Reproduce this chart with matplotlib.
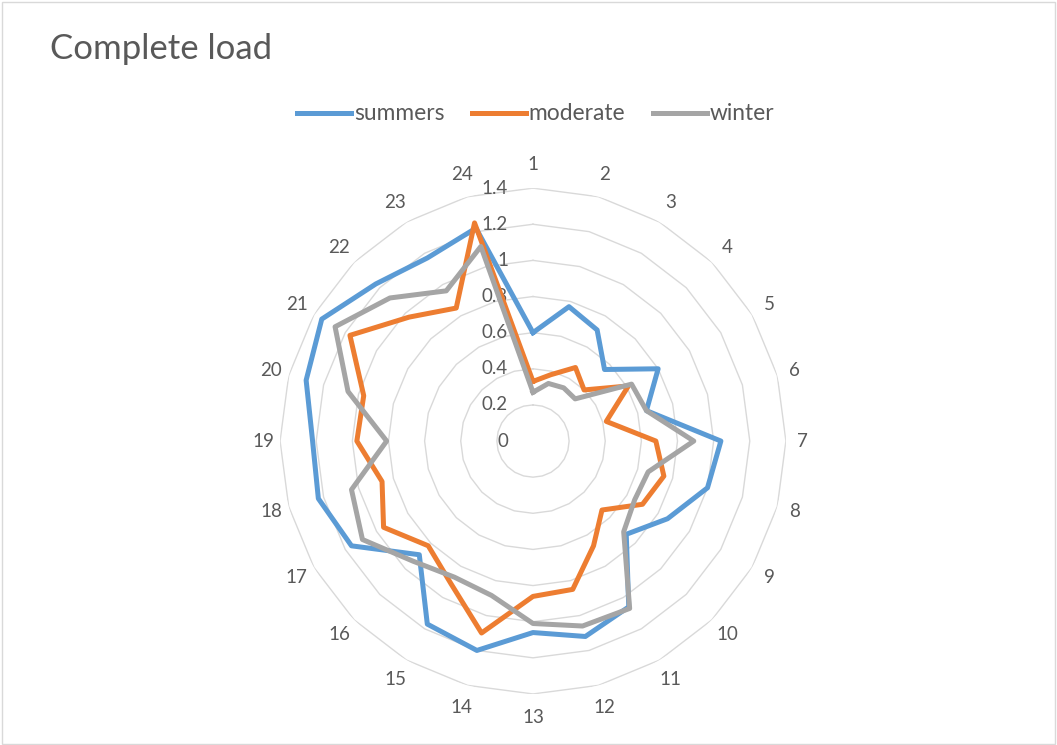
import numpy as np
import matplotlib
matplotlib.use("Agg")
import matplotlib.pyplot as plt
from matplotlib.patches import Rectangle

plt.rcParams['font.family'] = ['Lato', 'DejaVu Sans']

# ore del giorno e carichi per stagione
categorie = [str(h) for h in range(1, 25)]
summers = [0.60, 0.77, 0.71, 0.56, 0.80, 0.65, 1.04, 1.00, 0.86, 0.73, 1.06, 1.12,
           1.06, 1.20, 1.17, 0.89, 1.16, 1.23, 1.22, 1.30, 1.35, 1.23, 1.17, 1.22]
moderate = [0.33, 0.38, 0.47, 0.40, 0.61, 0.42, 0.68, 0.75, 0.70, 0.54, 0.67, 0.85,
            0.86, 1.10, 0.91, 0.82, 0.955, 0.865, 0.975, 0.97, 1.17, 0.97, 0.85, 1.25]
winter = [0.27, 0.33, 0.34, 0.33, 0.63, 0.65, 0.89, 0.66, 0.65, 0.71, 1.07, 1.06,
          1.01, 0.885, 0.87, 0.94, 1.09, 1.04, 0.81, 1.06, 1.265, 1.12, 0.96, 1.115]
livelli = [0, 0.2, 0.4, 0.6, 0.8, 1, 1.2, 1.4]

colori = {"summers": "#5B9BD5", "moderate": "#ED7D31", "winter": "#A5A5A5"}
testo = "#595959"
griglia = "#D9D9D9"

n = len(categorie)
angoli = np.linspace(0, 2 * np.pi, n, endpoint=False)
angoli_chiusi = np.append(angoli, angoli[0])

fig = plt.figure(figsize=(10.57, 7.45), dpi=100)
ax = fig.add_axes([0.2649, 0.0685, 0.4787, 0.679], projection="polar")
ax.set_theta_zero_location("N")
ax.set_theta_direction(-1)
ax.set_ylim(0, 1.4)
ax.grid(False)
ax.spines["polar"].set_visible(False)
ax.set_yticks([])
ax.set_xticks([])
ax.set_facecolor("none")

# griglia poligonale (senza raggi)
for r in livelli[1:]:
    ax.plot(angoli_chiusi, [r] * (n + 1), color=griglia, lw=1.0, zorder=1)

# etichette dei valori sull'asse verticale
for r in livelli:
    ax.annotate(f"{r:g}", xy=(0, r), xytext=(-18, 0), textcoords="offset points",
                ha="right", va="center", fontsize=13.5, color=testo, zorder=2)

# etichette delle ore attorno al grafico (un po' più distanti in alto e in basso)
for a, etichetta in zip(angoli, categorie):
    raggio = 1.49 + 0.04 * abs(np.cos(a))
    ax.text(a, raggio, etichetta, ha="center", va="center", fontsize=13.5,
            color=testo, clip_on=False)

for nome, valori in [("summers", summers), ("moderate", moderate), ("winter", winter)]:
    ax.plot(angoli_chiusi, valori + valori[:1], color=colori[nome], lw=3.6,
            solid_joinstyle="round", label=nome, zorder=3)

fig.text(50 / 1057, 1 - 49 / 745, "Complete load", fontsize=25, color=testo,
         va="center", ha="left")

fig.legend(loc="center", bbox_to_anchor=(0.507, 1 - 114 / 745), ncol=3,
           frameon=False, fontsize=16.4, handlelength=2.35, handletextpad=0.13,
           columnspacing=1.23, labelcolor=testo)

fig.patches.append(Rectangle((0.002, 0.002), 0.996, 0.995, transform=fig.transFigure,
                             fill=False, edgecolor=griglia, lw=1))

fig.savefig("out.png", dpi=100)
